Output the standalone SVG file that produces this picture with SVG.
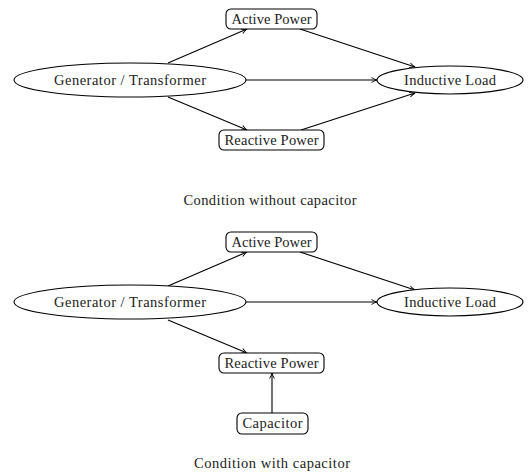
<svg xmlns="http://www.w3.org/2000/svg" width="529" height="476" viewBox="0 0 529 476">
<defs>
<marker id="ah" viewBox="0 0 10 10" refX="9" refY="5" markerWidth="7" markerHeight="7" markerUnits="userSpaceOnUse" orient="auto">
<path d="M1,1.5 Q5,4 9,5 Q5,6 1,8.5" fill="none" stroke="#000" stroke-width="1.3"/>
</marker>
<style>
.n{fill:#fff;stroke:#000;stroke-width:1.1}
.t{font-size:14.5px;fill:#222;text-anchor:middle}
.e{fill:none;stroke:#000;stroke-width:1.1;marker-end:url(#ah)}
</style>
</defs>
<rect width="529" height="476" fill="#fff"/>
<g id="connectors">
<line class="e" x1="168" y1="63" x2="247" y2="29"/>
<line class="e" x1="300" y1="29" x2="415" y2="67"/>
<line class="e" x1="246" y1="80" x2="377" y2="80"/>
<line class="e" x1="168" y1="97" x2="247" y2="130"/>
<line class="e" x1="301" y1="130" x2="415" y2="93"/>
<line class="e" x1="168" y1="286" x2="247" y2="252"/>
<line class="e" x1="300" y1="252" x2="415" y2="290"/>
<line class="e" x1="246" y1="302" x2="377" y2="302"/>
<line class="e" x1="168" y1="320" x2="247" y2="353"/>
<line class="e" x1="272" y1="413" x2="272" y2="373"/>
</g>
<g font-family="'Liberation Serif', 'DejaVu Serif', serif">
<g id="gen1"><ellipse class="n" cx="130" cy="80" rx="116" ry="17"/><text class="t" x="130" y="85" textLength="152">Generator / Transformer</text></g>
<g id="active1"><rect class="n" x="226" y="9" width="91" height="20" rx="5"/><text class="t" x="271.5" y="24" textLength="80">Active Power</text></g>
<g id="reactive1"><rect class="n" x="219" y="130" width="105" height="20" rx="5"/><text class="t" x="271.5" y="145" textLength="94">Reactive Power</text></g>
<g id="load1"><ellipse class="n" cx="450" cy="80" rx="73" ry="14"/><text class="t" x="450" y="85" textLength="92">Inductive Load</text></g>
<g id="caption1"><text class="t" x="270" y="205" textLength="173">Condition without capacitor</text></g>
<g id="gen2"><ellipse class="n" cx="130" cy="302" rx="116" ry="17"/><text class="t" x="130" y="307" textLength="152">Generator / Transformer</text></g>
<g id="active2"><rect class="n" x="226" y="232" width="91" height="20" rx="5"/><text class="t" x="271.5" y="247" textLength="80">Active Power</text></g>
<g id="reactive2"><rect class="n" x="219" y="353" width="105" height="20" rx="5"/><text class="t" x="271.5" y="368" textLength="94">Reactive Power</text></g>
<g id="load2"><ellipse class="n" cx="450" cy="302" rx="73" ry="14"/><text class="t" x="450" y="307" textLength="92">Inductive Load</text></g>
<g id="capacitor"><rect class="n" x="237" y="413" width="71" height="21" rx="5"/><text class="t" x="272.5" y="428" textLength="60">Capacitor</text></g>
<g id="caption2"><text class="t" x="272" y="468" textLength="156">Condition with capacitor</text></g>
</g>
</svg>
